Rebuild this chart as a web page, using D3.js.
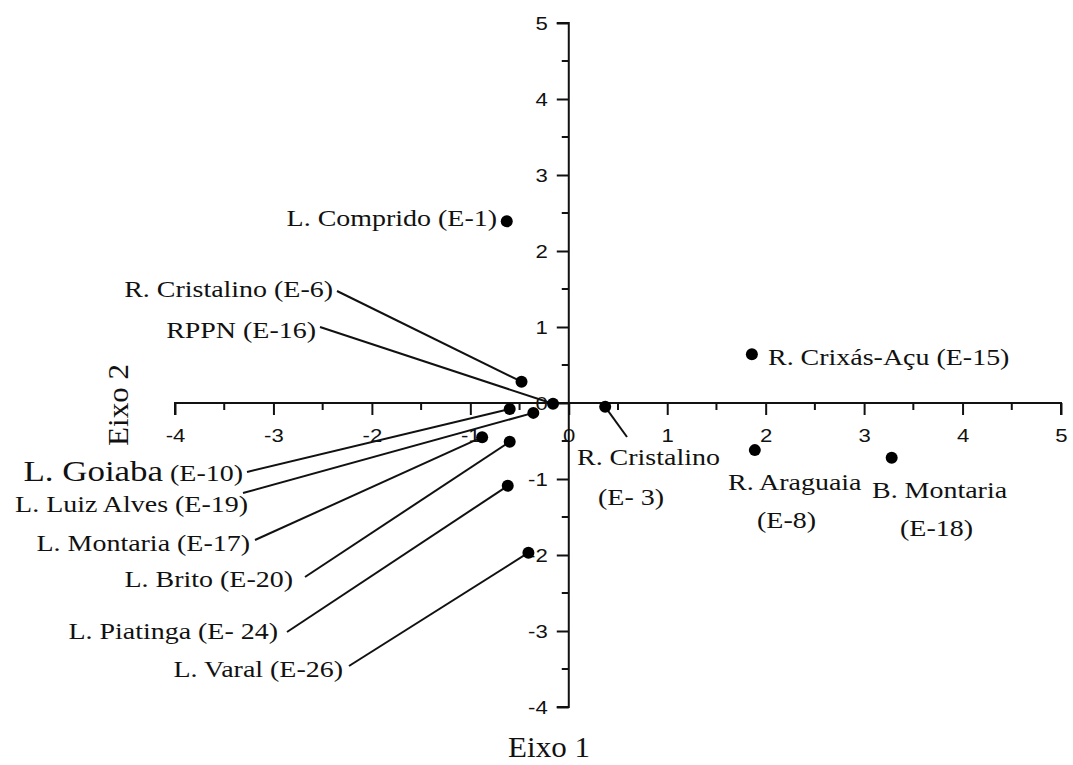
<!DOCTYPE html>
<html>
<head>
<meta charset="utf-8">
<script src="https://cdn.jsdelivr.net/npm/d3@7"></script>
<style>
  html, body { margin: 0; padding: 0; background: #fff; }
  svg { display: block; }
  .lbl { font-family: "Liberation Serif", "Times New Roman", serif; fill: #111; }
  .tick text { font-family: "Liberation Sans", Arial, sans-serif; fill: #111; }
</style>
</head>
<body>
<svg id="chart" width="1073" height="765"></svg>
<script>
// ---- data ----
const siteNames = ["L. Comprido", "R. Cristalino", "RPPN", "L. Goiaba", "L. Luiz Alves",
  "L. Montaria", "L. Brito", "L. Piatinga", "L. Varal", "R. Cristalino",
  "R. Crixás-Açu", "R. Araguaia", "B. Montaria"];
const siteCodes = ["(E-1)", "(E-6)", "(E-16)", "(E-10)", "(E-19)",
  "(E-17)", "(E-20)", "(E- 24)", "(E-26)", "(E- 3)",
  "(E-15)", "(E-8)", "(E-18)"];
const eixo1 = [-0.63, -0.48, -0.16, -0.60, -0.36, -0.88, -0.60, -0.62, -0.41, 0.37, 1.86, 1.89, 3.28];
const eixo2 = [2.39, 0.28, -0.01, -0.08, -0.13, -0.45, -0.51, -1.09, -1.97, -0.05, 0.64, -0.62, -0.72];
const xTickValues = [-4, -3, -2, -1, 0, 1, 2, 3, 4, 5];
const yTickValues = [-4, -3, -2, -1, 0, 1, 2, 3, 4, 5];
const xMinorValues = [-3.5, -2.5, -1.5, -0.5, 0.5, 1.5, 2.5, 3.5, 4.5];
const yMinorValues = [-3.5, -2.5, -1.5, -0.5, 0.5, 1.5, 2.5, 3.5, 4.5];

// ---- label layout (pixel placement of annotation text; leader lines end at the data point) ----
const labelLayout = [
  { anchor: "end", x: 497, y: 226, lead: null },
  { anchor: "end", x: 333, y: 297, lead: [337, 291] },
  { anchor: "end", x: 316, y: 338, lead: [320, 327] },
  { anchor: "end", x: 243, y: 481, lead: [247, 472], big: true },
  { anchor: "end", x: 248, y: 512, lead: [243, 493] },
  { anchor: "end", x: 250, y: 551, lead: [255, 540] },
  { anchor: "end", x: 293, y: 587, lead: [305, 577] },
  { anchor: "end", x: 278, y: 639, lead: [287, 632] },
  { anchor: "end", x: 343, y: 677, lead: [349, 666] },
  { anchor: "start", x: 577, y: 465, x2: 598, y2: 505, lead: [627, 437] },
  { anchor: "start", x: 768, y: 365, lead: null },
  { anchor: "start", x: 728, y: 490, x2: 757, y2: 528, lead: null },
  { anchor: "start", x: 872, y: 498, x2: 900, y2: 536, lead: null }
];

const SX = 1.165;   // horizontal stretch of the source figure's text
const svg = d3.select("#chart");
const x = d3.scaleLinear().domain([-4, 5]).range([175, 1061]);
const y = d3.scaleLinear().domain([-4, 5]).range([707, 23]);

// ---- axes through origin ----
const gx = svg.append("g").attr("transform", `translate(0,${y(0)})`)
  .call(d3.axisBottom(x).tickValues(xTickValues).tickSize(12).tickFormat(d3.format("d")));
gx.select(".domain").attr("d", `M${x(-4)},12V0H${x(5)}V12`);
gx.selectAll(".tick text").attr("y", 0).attr("dy", 0)
  .attr("transform", `translate(0,39) scale(${SX},1)`).style("font-size", "19px")
  .text(d => d < 0 ? "-" + Math.abs(d) : d);
gx.selectAll(".minor").data(xMinorValues).enter().append("line")
  .attr("class", "minor").attr("x1", d => x(d)).attr("x2", d => x(d))
  .attr("y1", 0).attr("y2", 7).attr("stroke", "#111").attr("stroke-width", 2);

const gy = svg.append("g").attr("transform", `translate(${x(0)},0)`)
  .call(d3.axisLeft(y).tickValues(yTickValues).tickSize(12).tickFormat(d3.format("d")));
gy.select(".domain").attr("d", `M-12,${y(5)}H0V${y(-4)}H-12`);
gy.selectAll(".tick text").attr("x", 0).attr("dy", "0.36em")
  .attr("transform", `translate(-21,0) scale(${SX},1)`).style("font-size", "19px")
  .text(d => d < 0 ? "-" + Math.abs(d) : d);
gy.selectAll(".minor").data(yMinorValues).enter().append("line")
  .attr("class", "minor").attr("y1", d => y(d)).attr("y2", d => y(d))
  .attr("x1", 0).attr("x2", -7).attr("stroke", "#111").attr("stroke-width", 2);

svg.selectAll(".domain, .tick line").attr("stroke", "#111").attr("stroke-width", 2);

// ---- axis titles ----
svg.append("text").attr("class", "lbl")
  .attr("transform", `translate(549,757) scale(1.07,1)`)
  .attr("text-anchor", "middle").style("font-size", "29px").text("Eixo 1");
svg.append("text").attr("class", "lbl")
  .attr("transform", `translate(128,405) rotate(-90) scale(1.07,1)`)
  .attr("text-anchor", "middle").style("font-size", "29px").text("Eixo 2");

// ---- leader lines ----
const idx = d3.range(siteNames.length);
svg.append("g").selectAll("line").data(idx.filter(i => labelLayout[i].lead)).enter()
  .append("line")
  .attr("x1", i => labelLayout[i].lead[0]).attr("y1", i => labelLayout[i].lead[1])
  .attr("x2", i => x(eixo1[i])).attr("y2", i => y(eixo2[i]))
  .attr("stroke", "#111").attr("stroke-width", 2);

// ---- points ----
svg.append("g").selectAll("circle").data(idx).enter().append("circle")
  .attr("cx", i => x(eixo1[i])).attr("cy", i => y(eixo2[i])).attr("r", 6).attr("fill", "#000");

// ---- labels ----
idx.forEach(i => {
  const L = labelLayout[i];
  if (L.x2 !== undefined) {
    svg.append("text").attr("class", "lbl").attr("text-anchor", L.anchor)
      .attr("transform", `translate(${L.x},${L.y}) scale(${SX},1)`)
      .style("font-size", "24px").text(siteNames[i]);
    svg.append("text").attr("class", "lbl").attr("text-anchor", L.anchor)
      .attr("transform", `translate(${L.x2},${L.y2}) scale(${SX},1)`)
      .style("font-size", "24px").text(siteCodes[i]);
  } else {
    const t = svg.append("text").attr("class", "lbl").attr("text-anchor", L.anchor)
      .attr("transform", `translate(${L.x},${L.y}) scale(${SX},1)`)
      .style("font-size", "24px");
    t.append("tspan").style("font-size", L.big ? "30px" : "24px").text(siteNames[i]);
    t.append("tspan").text(" " + siteCodes[i]);
  }
});
</script>
</body>
</html>
